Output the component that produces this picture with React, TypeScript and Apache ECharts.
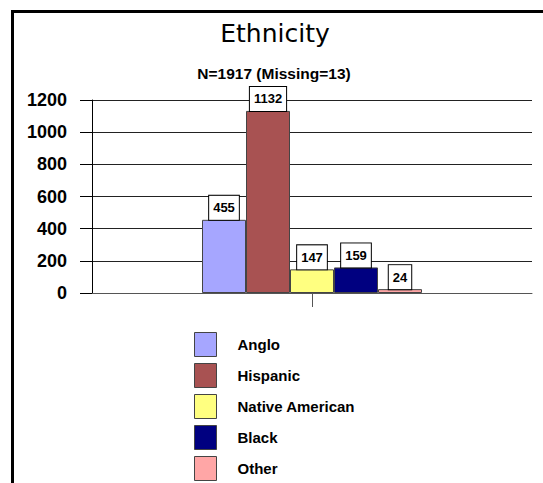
import React, { useEffect, useRef } from "react";
import * as echarts from "echarts";

const categories = ["Ethnicity"];
const seriesNames = ["Anglo", "Hispanic", "Native American", "Black", "Other"];
const seriesValues = [455, 1132, 147, 159, 24];
const seriesColors = ["#a6a6ff", "#a85252", "#ffff80", "#000080", "#ffa6a6"];
const yTicks = [0, 200, 400, 600, 800, 1000, 1200];

const FONT = "'Liberation Sans', Arial, sans-serif";

export default function App() {
  const ref = useRef<HTMLDivElement>(null);
  useEffect(() => {
    if (!ref.current) return;
    const chart = echarts.init(ref.current, null, { renderer: "svg" });
    const series = seriesNames.map((name, i) => ({
      name,
      type: "bar",
      data: [seriesValues[i]],
      barWidth: 44,
      barGap: "0%",
      itemStyle: { color: seriesColors[i], borderColor: "#444", borderWidth: 1 },
      label: {
        show: true,
        position: "top",
        distance: 0,
        formatter: "{c}",
        color: "#000",
        fontFamily: FONT,
        fontWeight: "bold",
        fontSize: 13,
        lineHeight: 14,
        backgroundColor: "#fff",
        borderColor: "#000",
        borderWidth: 1,
        padding: [5, 4, 5, 4],
      },
      z: 3,
    }));
    chart.setOption({
      animation: false,
      backgroundColor: "#fff",
      textStyle: { fontFamily: FONT },
      grid: { left: 92, right: 11, top: 100, bottom: 190, containLabel: false },
      xAxis: {
        type: "category",
        data: categories,
        axisLine: { show: true, lineStyle: { color: "#555", width: 1 } },
        axisTick: { show: true, alignWithLabel: true, length: 14, lineStyle: { color: "#555" } },
        axisLabel: { show: false },
      },
      yAxis: {
        type: "value",
        min: yTicks[0],
        max: yTicks[yTicks.length - 1],
        interval: 200,
        axisLine: { show: true, lineStyle: { color: "#000", width: 1 } },
        axisTick: { show: true, length: 12, lineStyle: { color: "#000" } },
        axisLabel: {
          margin: 25,
          color: "#000",
          fontFamily: FONT,
          fontWeight: "bold",
          fontSize: 18,
          formatter: (v: number) => String(v),
        },
        splitLine: { show: true, lineStyle: { color: "#222", width: 1 } },
      },
      legend: {
        orient: "vertical",
        left: 194,
        top: 332,
        height: 160,
        padding: 0,
        itemWidth: 22,
        itemHeight: 24,
        itemGap: 6,
        icon: "rect",
        data: seriesNames,
        itemStyle: { borderColor: "#444", borderWidth: 1 },
        textStyle: {
          color: "#000",
          fontFamily: FONT,
          fontWeight: "bold",
          fontSize: 15,
          padding: [0, 0, 0, 16],
        },
      },
      graphic: [
        {
          type: "line",
          shape: { x1: 12.5, y1: 11.5, x2: 543, y2: 11.5 },
          style: { stroke: "#000", lineWidth: 3 },
        },
        {
          type: "line",
          shape: { x1: 12.5, y1: 10, x2: 12.5, y2: 483 },
          style: { stroke: "#000", lineWidth: 3 },
        },
        {
          type: "text",
          x: 275,
          y: 33,
          style: {
            text: "Ethnicity",
            fill: "#000",
            font: "normal 25px 'DejaVu Sans', sans-serif",
            textAlign: "center",
            textVerticalAlign: "middle",
          },
        },
        {
          type: "text",
          x: 274,
          y: 73,
          style: {
            text: "N=1917 (Missing=13)",
            fill: "#000",
            font: "bold 15.5px 'Liberation Sans', Arial, sans-serif",
            textAlign: "center",
            textVerticalAlign: "middle",
          },
        },
      ],
      series,
    });
    return () => chart.dispose();
  }, []);
  return (
    <div
      ref={ref}
      style={{ position: "absolute", left: 0, top: 0, width: 543, height: 483 }}
    />
  );
}
